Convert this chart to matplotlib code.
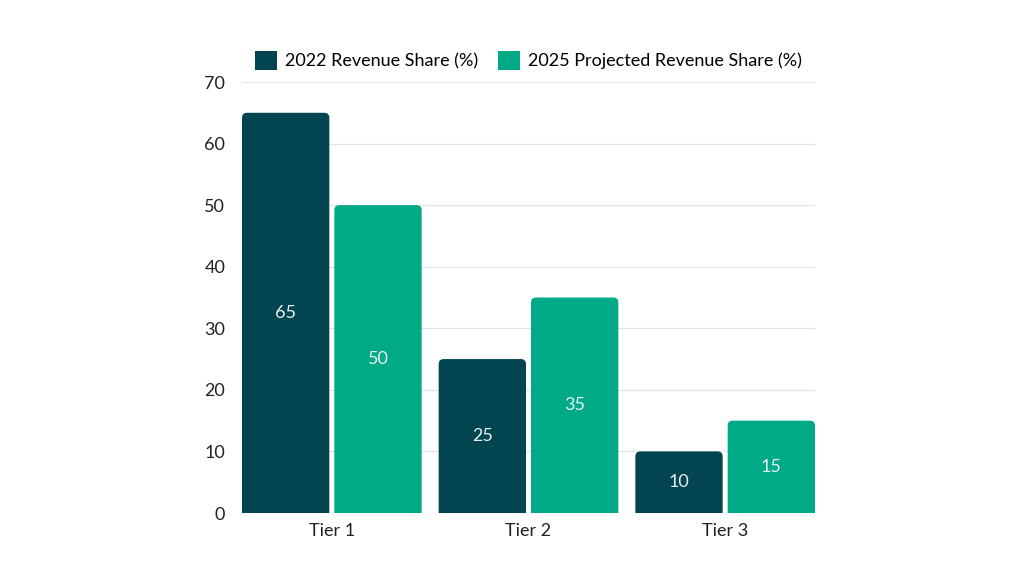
import matplotlib
matplotlib.use("Agg")
import matplotlib.pyplot as plt
from matplotlib.patches import FancyBboxPatch, Patch
import numpy as np

categories = ["Tier 1", "Tier 2", "Tier 3"]
series_names = ["2022 Revenue Share (%)", "2025 Projected Revenue Share (%)"]
rev_2022 = [65, 25, 10]
rev_2025 = [50, 35, 15]
y_ticks = [0, 10, 20, 30, 40, 50, 60, 70]

colors = ["#02444F", "#00AA87"]

plt.rcParams['font.family'] = ['Lato', 'DejaVu Sans']

fig = plt.figure(figsize=(10.24, 5.76), dpi=100)
ax = fig.add_axes([242/1024, 1-513/576, 573/1024, 431/576])

x = np.arange(len(categories))
bw = 0.444
gap = 0.0255
offsets = [-(bw + gap)/2, (bw + gap)/2]

radius_x = 0.026
aspect = (5.0/6.157) / radius_x

for vals, off, col, name in zip([rev_2022, rev_2025], offsets, colors, series_names):
    bars = ax.bar(x + off, vals, width=bw, color=col, label=name)
    for b, v in zip(bars, vals):
        bx, by = b.get_x(), b.get_y()
        w, h = b.get_width(), b.get_height()
        b.set_visible(False)
        p = FancyBboxPatch((bx + radius_x, by - 2), w - 2*radius_x, h + 2 - radius_x*aspect,
                           boxstyle=f"round,pad={radius_x}", mutation_aspect=aspect,
                           facecolor=col, edgecolor="none", zorder=3)
        ax.add_patch(p)
        ax.text(bx + w/2, h/2, str(v), ha="center", va="center", color="#E6F2EF",
                fontsize=13, zorder=4)

ax.set_ylim(0, 70)
ax.set_xlim(x[0] - bw - gap/2, x[-1] + bw + gap/2)
ax.set_yticks(y_ticks)
ax.set_xticks(x)
ax.set_xticklabels(categories)
ax.tick_params(axis="both", length=0, labelsize=13, colors="#222222")
ax.tick_params(axis="y", pad=12)
ax.tick_params(axis="x", pad=7)
ax.grid(axis="y", color="#E3E3E3", linewidth=0.9, zorder=0)
ax.set_axisbelow(True)
for s in ax.spines.values():
    s.set_visible(False)

handles = [Patch(facecolor=c, edgecolor="none") for c in colors]
ax.legend(handles, series_names, loc="lower center", bbox_to_anchor=(0.5, 1.0),
          ncol=2, frameon=False, fontsize=13, handlelength=1.2, handleheight=1.3,
          handletextpad=0.45, columnspacing=1.1, borderaxespad=0.25)

fig.savefig("out.png", dpi=100, facecolor="white")
